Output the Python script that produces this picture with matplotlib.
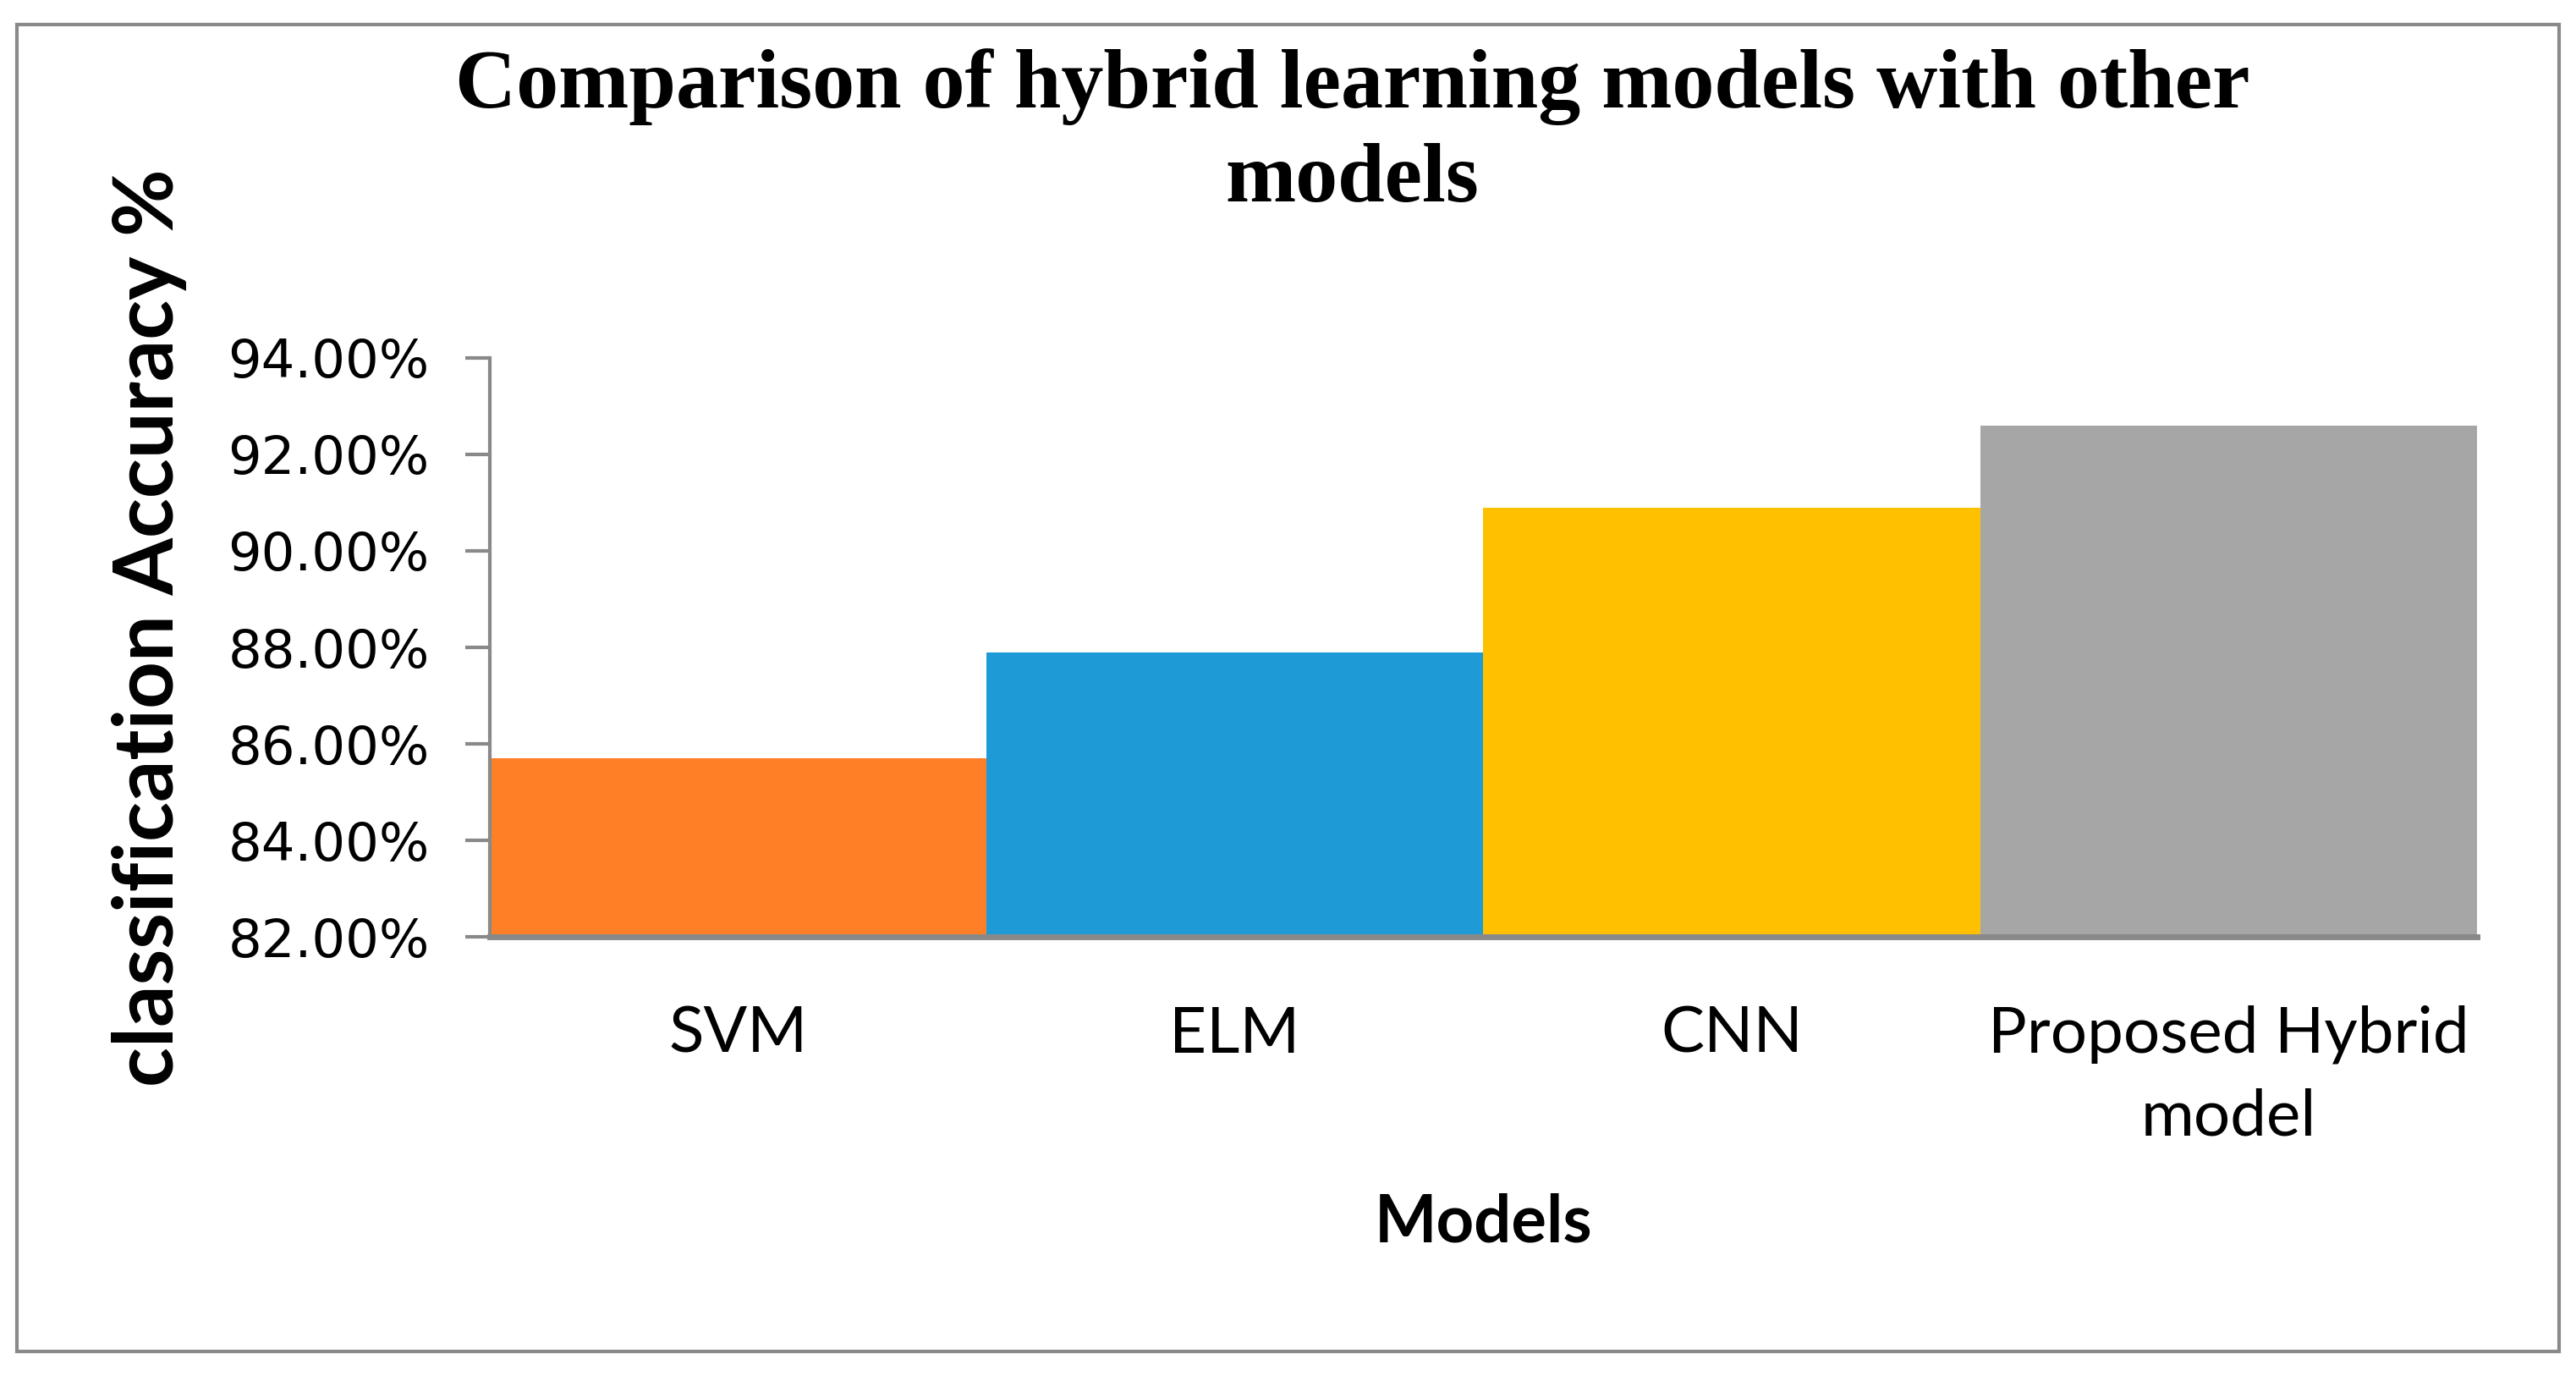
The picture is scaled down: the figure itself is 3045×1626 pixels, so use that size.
import matplotlib.pyplot as plt
from matplotlib.patches import Rectangle
from matplotlib.ticker import FuncFormatter

# Data
models = ['SVM', 'ELM', 'CNN', 'Proposed Hybrid\nmodel']
accuracy = [85.7, 87.9, 90.9, 92.6]
colors = ['#FF7F27', '#1E9BD7', '#FFC000', '#A6A6A6']
yticks = [82, 84, 86, 88, 90, 92, 94]

fig = plt.figure(figsize=(30.45, 16.26), dpi=100)
ax = fig.add_axes([0.190, 0.319, 0.7716, 0.421])

x = range(len(models))
ax.bar(x, [a - 82 for a in accuracy], bottom=82, width=1.0, color=colors)
ax.set_xlim(-0.5, len(models) - 0.5)
ax.set_ylim(82, 94)
ax.set_yticks(yticks)
ax.yaxis.set_major_formatter(FuncFormatter(lambda v, p: f'{v:.2f}%'))
ax.set_xticks(list(x))
ax.set_xticklabels(models, fontsize=55, family='Lato', linespacing=1.5)

ax.tick_params(axis='y', labelsize=45, length=21, width=3, color='#898989', pad=30)
ax.tick_params(axis='x', length=0, pad=58)
for lbl in ax.get_yticklabels():
    lbl.set_family('DejaVu Sans')

for s in ['top', 'right']:
    ax.spines[s].set_visible(False)
ax.spines['left'].set_color('#898989')
ax.spines['left'].set_linewidth(3)
ax.spines['bottom'].set_color('#898989')
ax.spines['bottom'].set_linewidth(5)

ax.set_xlabel('Models', fontsize=56, fontweight='bold', family='Lato', labelpad=40)
ax.set_ylabel('classification Accuracy %', fontsize=70, fontweight='bold', family='Lato')
ax.yaxis.set_label_coords(-0.152, 0.534)

fig.text(0.525, 0.903, 'Comparison of hybrid learning models with other\nmodels',
         ha='center', va='center', fontsize=72, fontweight='bold',
         family='Liberation Serif', linespacing=1.3)

# outer frame
fig.patches.append(Rectangle((0.0066, 0.018), 0.9868, 0.964, transform=fig.transFigure,
                             fill=False, edgecolor='#898989', linewidth=3))

fig.savefig('out.png', dpi=100)
